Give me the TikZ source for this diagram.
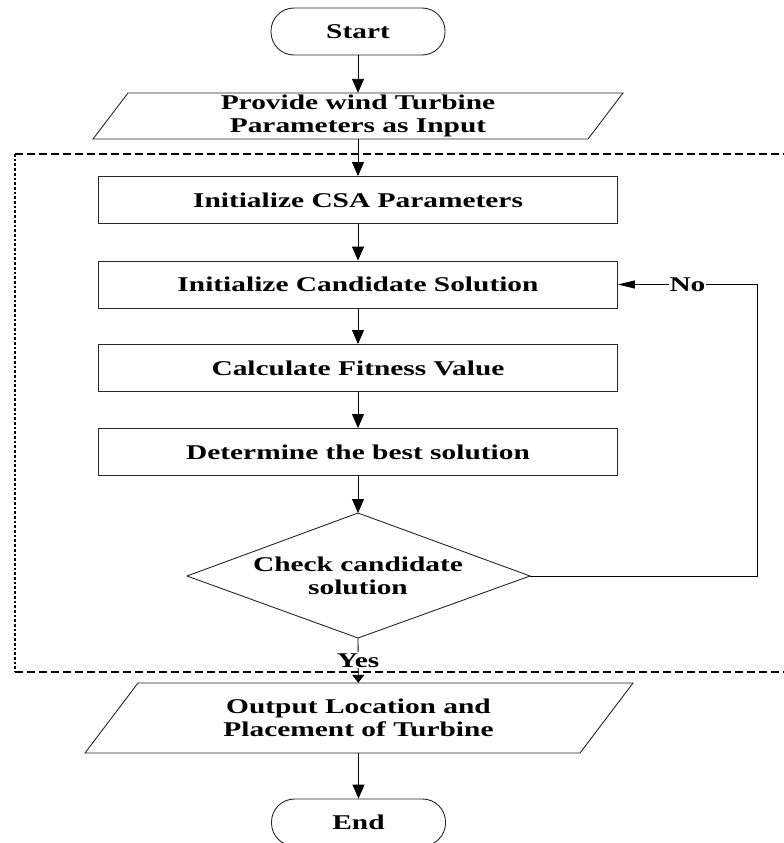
\documentclass[tikz,border=0pt]{standalone}
\usepackage{fontspec}
\setmainfont{Liberation Serif}[FakeStretch=1.4]
\usetikzlibrary{arrows.meta}
\begin{document}
\begin{tikzpicture}[x=1pt,y=-1pt,
  every node/.style={font=\bfseries\fontsize{21}{23}\selectfont, text=black},
  procbox/.style={draw=black!85, line width=0.9pt, minimum width=519pt, minimum height=47pt, inner sep=0pt},
  term/.style={draw=black!85, line width=0.9pt, rounded corners=23pt, minimum width=174pt, minimum height=47pt, inner sep=0pt},
  iobox/.style={inner sep=0pt, align=center},
  shapeline/.style={draw=black!85, line width=0.9pt, line join=miter},
  conn/.style={draw=black, line width=0.9pt, -{Triangle[length=14pt,width=12pt]}},
  lbl/.style={fill=white, inner sep=1pt},
  framedash/.style={line width=2.9pt, dash pattern=on 8pt off 4pt},
  framedot/.style={line width=2.9pt, dash pattern=on 2.7pt off 2pt},
]
\useasboundingbox (0,0) rectangle (784,843);

% Start
\node[term] (start) at (358,31.5) {Start};

% Input parallelogram
\coordinate (i1) at (93,139);
\coordinate (i2) at (128,93);
\coordinate (i3) at (623,93);
\coordinate (i4) at (588,139);
\draw[shapeline] (i1) -- (i2) -- (i3) -- (i4) -- cycle;
\node[iobox, minimum height=46pt] (inp) at (358,116) {Provide wind Turbine\\Parameters as Input};

% Process boxes
\node[procbox] (b1) at (358,200) {Initialize CSA Parameters};
\node[procbox] (b2) at (358,284.5) {Initialize Candidate Solution};
\node[procbox] (b3) at (358,368) {Calculate Fitness Value};
\node[procbox] (b4) at (358,452) {Determine the best solution};

% Decision diamond
\coordinate (dN) at (358,513);
\coordinate (dE) at (530,576);
\coordinate (dS) at (358,638);
\coordinate (dW) at (187,576);
\draw[shapeline] (dN) -- (dE) -- (dS) -- (dW) -- cycle;
\node[iobox] (dia) at (358,576) {Check candidate\\solution};

% Output parallelogram
\coordinate (o1) at (85,753);
\coordinate (o2) at (138,683);
\coordinate (o3) at (633,683);
\coordinate (o4) at (580,753);
\draw[shapeline] (o1) -- (o2) -- (o3) -- (o4) -- cycle;
\node[iobox, minimum height=70pt] (out) at (358.5,718) {Output Location and\\Placement of Turbine};

% End
\node[term] (endt) at (358.5,822.5) {End};

% Connectors
\draw[conn] (start) -- (inp);
\draw[conn] (inp) -- (b1);
\draw[conn] (b1) -- (b2);
\draw[conn] (b2) -- (b3);
\draw[conn] (b3) -- (b4);
\draw[conn] (b4) -- (dN);
\draw[conn, -{Triangle[length=8pt,width=12pt]}] (dS) -- node[lbl, pos=0.5] (yes) {Yes} (out);
\coordinate (lp1) at (757,576);
\coordinate (lp2) at (757,284.5);
\draw[conn, -{Triangle[length=17pt,width=8pt]}] (dE) -- (lp1) -- (lp2) -- node[lbl, pos=0.5] (no) {No} (b2);
\draw[conn] (out) -- (endt);

% Dashed frame
\draw[framedash] (15,154) -- (800,154);
\draw[framedash] (15,672) -- (800,672);
\draw[framedot] (15,154) -- (15,672);
\end{tikzpicture}
\end{document}
